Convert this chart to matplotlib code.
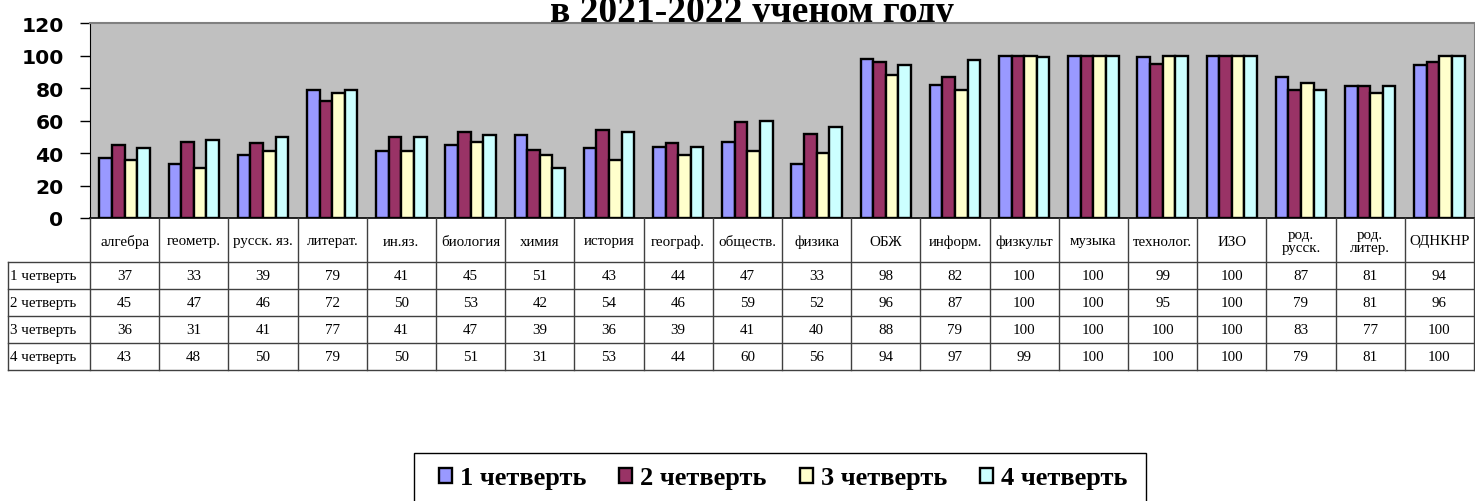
import matplotlib.pyplot as plt
from matplotlib.patches import Rectangle, Patch

# data
subjects = ['алгебра', 'геометр.', 'русск. яз.', 'литерат.', 'ин.яз.', 'биология',
            'химия', 'история', 'географ.', 'обществ.', 'физика', 'ОБЖ', 'информ.',
            'физкульт', 'музыка', 'технолог.', 'ИЗО', 'род.\nрусск.', 'род.\nлитер.', 'ОДНКНР']
quarters = ['1 четверть', '2 четверть', '3 четверть', '4 четверть']
q1 = [37, 33, 39, 79, 41, 45, 51, 43, 44, 47, 33, 98, 82, 100, 100, 99, 100, 87, 81, 94]
q2 = [45, 47, 46, 72, 50, 53, 42, 54, 46, 59, 52, 96, 87, 100, 100, 95, 100, 79, 81, 96]
q3 = [36, 31, 41, 77, 41, 47, 39, 36, 39, 41, 40, 88, 79, 100, 100, 100, 100, 83, 77, 100]
q4 = [43, 48, 50, 79, 50, 51, 31, 53, 44, 60, 56, 94, 97, 99, 100, 100, 100, 79, 81, 100]
series = [q1, q2, q3, q4]
colors = ['#9999FF', '#993366', '#FFFFCC', '#CCFFFF']

W, H = 1475, 502
fig = plt.figure(figsize=(W / 100, H / 100), dpi=100)

# plot area in pixels
left, right, top, bottom = 90, 1474, 24, 219
ax = fig.add_axes([left / W, 1 - bottom / H, (right - left) / W, (bottom - top) / H])
ax.set_facecolor('#C0C0C0')

n = len(subjects)
bw = 1 / 5.5
for i, vals in enumerate(series):
    xs = [k + (i - 1.5) * bw for k in range(n)]
    ax.bar(xs, vals, width=bw, color=colors[i], edgecolor='black', linewidth=1.7, zorder=3)

ax.set_xlim(-0.5, n - 0.5)
ax.set_ylim(0, 120)
ax.set_yticks(range(0, 121, 20))
ax.set_xticks([])
ax.tick_params(axis='y', length=7, width=1, pad=12, labelsize=14.6)
for t in ax.get_yticklabels():
    t.set_fontweight('bold')
    t.set_family('DejaVu Sans')
ax.spines['top'].set_color('#808080')
ax.spines['top'].set_linewidth(1.5)
ax.spines['right'].set_color('#808080')
ax.spines['left'].set_color('black')
ax.spines['bottom'].set_color('black')
ax.spines['bottom'].set_linewidth(1.2)

# title (first line is outside the picture)
fig.text(752 / W, 1 - 22 / H, 'в 2021-2022 ученом году', ha='center', va='baseline',
         fontsize=27, fontweight='bold', family='Liberation Serif', zorder=-1)

# data table
tb_bottom = 371
tab = fig.add_axes([8 / W, 1 - tb_bottom / H, (right - 8) / W, (tb_bottom - bottom) / H])
slot = (right - left) / n
x0 = -0.5 - (left - 8) / slot
tab.set_xlim(x0, n - 0.5)
tab.set_ylim(tb_bottom - bottom, 0)
tab.axis('off')
hdr = 44
rowh = 27
lc = '#404040'
for r in range(5):
    y = hdr + r * rowh
    tab.plot([x0, n - 0.5], [y, y], color=lc, lw=1, clip_on=False)
tab.plot([x0, x0], [hdr, hdr + 4 * rowh], color=lc, lw=1, clip_on=False)
for k in range(n + 1):
    tab.plot([k - 0.5, k - 0.5], [0, hdr + 4 * rowh], color=lc, lw=1, clip_on=False)
for k, s in enumerate(subjects):
    tab.text(k, hdr / 2 + 1, s, ha='center', va='center', fontsize=10.8,
             family='Liberation Serif', linespacing=1.0)
for r, (q, vals) in enumerate(zip(quarters, series)):
    yc = hdr + r * rowh + rowh / 2
    tab.text(x0 + 0.03, yc, q, ha='left', va='center', fontsize=10.8, family='Liberation Serif')
    for k, v in enumerate(vals):
        tab.text(k, yc, str(v), ha='center', va='center', fontsize=10.8, family='Liberation Serif')

# legend
fig.add_artist(Rectangle((414 / W, -0.05), (1146 - 414) / W, 0.05 + (H - 454) / H,
                         transform=fig.transFigure, fill=False, edgecolor='black', lw=1))
handles = [Patch(facecolor=c, edgecolor='black', linewidth=1.7) for c in colors]
fig.legend(handles, quarters, loc='center', bbox_to_anchor=(783 / W, 1 - 479 / H), ncol=4,
           frameon=False, handlelength=0.5, handleheight=0.5, handletextpad=0.3,
           columnspacing=1.25, prop={'family': 'Liberation Serif', 'weight': 'bold', 'size': 19})

plt.savefig('out.png', dpi=100)
